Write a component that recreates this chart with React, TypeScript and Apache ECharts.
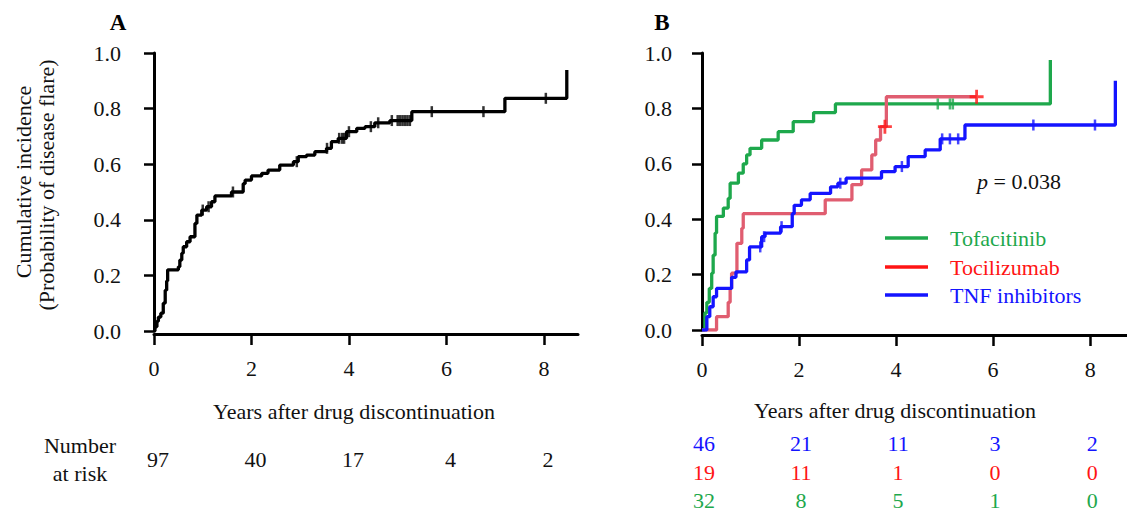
import React, { useEffect, useRef } from "react";
import * as echarts from "echarts";

const FONT = "Liberation Serif";
const FS = 22;

// Panel A: all patients
const timeA = [0, 0.02, 0.06, 0.09, 0.14, 0.19, 0.23, 0.26, 0.28, 0.5, 0.53, 0.57, 0.6, 0.67, 0.74, 0.84, 0.88, 0.98, 1.08, 1.18, 1.25, 1.59, 1.83, 1.87, 2.0, 2.21, 2.34, 2.58, 2.86, 2.96, 3.13, 3.3, 3.54, 3.64, 3.78, 3.95, 4.16, 4.33, 4.53, 4.84, 5.29, 7.2, 8.47];
const cumA = [0, 0.015, 0.035, 0.05, 0.064, 0.1, 0.147, 0.18, 0.22, 0.231, 0.255, 0.28, 0.303, 0.321, 0.339, 0.387, 0.417, 0.435, 0.447, 0.465, 0.486, 0.5, 0.53, 0.543, 0.558, 0.567, 0.579, 0.597, 0.609, 0.627, 0.633, 0.645, 0.657, 0.681, 0.693, 0.717, 0.729, 0.735, 0.749, 0.757, 0.789, 0.837, 0.939];
const censorA = [1.0, 1.12, 1.62, 2.93, 3.55, 3.8, 3.86, 3.9, 4.0, 4.45, 4.6, 4.88, 5.0, 5.05, 5.1, 5.15, 5.2, 5.25, 5.7, 6.76, 8.04];

// Panel B: Tofacitinib
const timeTofa = [0, 0.06, 0.1, 0.15, 0.2, 0.23, 0.27, 0.3, 0.44, 0.54, 0.58, 0.75, 0.85, 0.92, 0.99, 1.23, 1.57, 1.88, 2.3, 2.75, 7.18];
const cumTofa = [0, 0.062, 0.1, 0.15, 0.205, 0.27, 0.35, 0.41, 0.44, 0.475, 0.53, 0.566, 0.6, 0.632, 0.656, 0.686, 0.716, 0.752, 0.785, 0.816, 0.975];
const censorTofa = [4.86, 5.11, 5.17];

// Panel B: Tocilizumab
const timeToci = [0, 0.3, 0.54, 0.58, 0.61, 0.72, 0.82, 0.85, 2.54, 3.09, 3.29, 3.5, 3.58, 3.68, 3.8, 5.66];
const cumToci = [0, 0.048, 0.1, 0.15, 0.205, 0.313, 0.367, 0.42, 0.47, 0.525, 0.578, 0.632, 0.686, 0.734, 0.842, 0.842];
const censorToci = [3.77, 5.66];

// Panel B: TNF inhibitors
const timeTnf = [0, 0.1, 0.16, 0.23, 0.3, 0.61, 0.7, 0.92, 0.98, 1.23, 1.3, 1.62, 1.86, 1.9, 2.05, 2.23, 2.65, 2.8, 2.97, 3.7, 3.98, 4.25, 4.6, 4.91, 5.42, 8.52];
const cumTnf = [0, 0.048, 0.084, 0.12, 0.15, 0.19, 0.21, 0.253, 0.3, 0.337, 0.35, 0.373, 0.42, 0.45, 0.47, 0.493, 0.517, 0.53, 0.548, 0.572, 0.59, 0.626, 0.65, 0.69, 0.74, 0.9];
const censorTnf = [1.2, 1.28, 1.64, 2.85, 4.12, 4.95, 5.11, 5.28, 6.83, 8.1];

const xTicks = [0, 2, 4, 6, 8];
const riskA = [97, 40, 17, 4, 2];
const riskTnf = [46, 21, 11, 3, 2];
const riskToci = [19, 11, 1, 0, 0];
const riskTofa = [32, 8, 5, 1, 0];

const GREEN = "#1ea84c";
const RED_LINE = "#e05d70";
const RED = "#ff1414";
const BLUE = "#1414ff";

function stepAt(times: number[], vals: number[], t: number) {
  let v = vals[0];
  for (let i = 0; i < times.length; i++) if (times[i] <= t) v = vals[i];
  return v;
}

const PLUS = "path://M4,0H6V4H10V6H6V10H4V6H0V4H4Z";

function xAxisCfg(gridIndex: number, max: number, offset: number) {
  return {
    type: "value",
    gridIndex,
    min: 0,
    max,
    offset,
    axisLine: { show: true, onZero: false, lineStyle: { color: "#000", width: 3 } },
    axisTick: { show: true, length: 11, customValues: xTicks, lineStyle: { color: "#000", width: 2.5 } },
    axisLabel: { customValues: xTicks, margin: 23, color: "#111", fontFamily: FONT, fontSize: FS },
    splitLine: { show: false },
  };
}

function yAxisCfg(gridIndex: number, offset: number) {
  return {
    type: "value",
    gridIndex,
    min: 0,
    max: 1,
    interval: 0.2,
    offset,
    axisLine: { show: true, lineStyle: { color: "#000", width: 3 } },
    axisTick: { show: true, length: 10, lineStyle: { color: "#000", width: 2.5 } },
    axisLabel: {
      margin: 14,
      color: "#111",
      fontFamily: FONT,
      fontSize: FS,
      formatter: (v: number) => v.toFixed(1),
    },
    splitLine: { show: false },
  };
}

function kmSeries(name: string, times: number[], vals: number[], color: string, idx: number) {
  return {
    name,
    type: "line",
    step: "end",
    xAxisIndex: idx,
    yAxisIndex: idx,
    showSymbol: false,
    symbol: "none",
    data: times.map((t, i) => [t, vals[i]]),
    lineStyle: { color, width: 3.3 },
    z: 3,
  };
}

function censorSeries(name: string, times: number[], vals: number[], cens: number[], color: string, idx: number, symbol: string, size: any) {
  return {
    name,
    type: "scatter",
    xAxisIndex: idx,
    yAxisIndex: idx,
    symbol,
    symbolSize: size,
    data: cens.map((t) => [t, stepAt(times, vals, t)]),
    itemStyle: { color },
    z: 4,
  };
}

export default function App() {
  const ref = useRef<HTMLDivElement>(null);
  useEffect(() => {
    if (!ref.current) return;
    const chart = echarts.init(ref.current, null, { renderer: "svg" });
    const option: any = {
      animation: false,
      backgroundColor: "#fff",
      grid: [
        { left: 154, top: 53, width: 424, height: 278 },
        { left: 702, top: 53, width: 425, height: 277 },
      ],
      xAxis: [xAxisCfg(0, 8.7, 3), xAxisCfg(1, 8.76, 5)],
      yAxis: [yAxisCfg(0, 19), yAxisCfg(1, 16)],
      series: [
        kmSeries("All", timeA, cumA, "#000", 0),
        censorSeries("All censored", timeA, cumA, censorA, "#000", 0, "rect", [2.5, 11]),
        kmSeries("Tofacitinib", timeTofa, cumTofa, GREEN, 1),
        kmSeries("Tocilizumab", timeToci, cumToci, RED_LINE, 1),
        kmSeries("TNF inhibitors", timeTnf, cumTnf, BLUE, 1),
        censorSeries("Tofacitinib censored", timeTofa, cumTofa, censorTofa, GREEN, 1, "rect", [2.5, 11]),
        censorSeries("Tocilizumab censored", timeToci, cumToci, censorToci, RED, 1, PLUS, 14),
        censorSeries("TNF censored", timeTnf, cumTnf, censorTnf, BLUE, 1, "rect", [2.5, 11]),
      ],
    };
    chart.setOption(option);

    const px = (axis: number, v: number) => chart.convertToPixel({ xAxisIndex: axis }, v) as number;
    const txt = (text: string, x: number, y: number, fill: string, extra: any = {}) => ({
      type: "text",
      x,
      y,
      style: { text, fill, fontFamily: FONT, fontSize: FS, align: "center", verticalAlign: "middle", ...extra },
    });
    const graphics: any[] = [
      txt("A", 118, 22, "#000", { fontWeight: "bold", fontSize: 23 }),
      txt("B", 662, 22, "#000", { fontWeight: "bold", fontSize: 23 }),
      { ...txt("Cumulative incidence", 23, 182, "#111"), rotation: Math.PI / 2 },
      { ...txt("(Probability of disease flare)", 46, 185, "#111"), rotation: Math.PI / 2 },
      txt("Years after drug discontinuation", 354, 411, "#111"),
      txt("Years after drug discontinuation", 895, 410, "#111"),
      txt("Number", 80, 445, "#111"),
      txt("at risk", 80, 473, "#111"),
      // legend
      { type: "line", shape: { x1: 885, y1: 238, x2: 928, y2: 238 }, style: { stroke: GREEN, lineWidth: 3.5 } },
      { type: "line", shape: { x1: 885, y1: 267, x2: 928, y2: 267 }, style: { stroke: RED, lineWidth: 3.5 } },
      { type: "line", shape: { x1: 885, y1: 295, x2: 928, y2: 295 }, style: { stroke: BLUE, lineWidth: 3.5 } },
      txt("Tofacitinib", 950, 238, GREEN, { align: "left" }),
      txt("Tocilizumab", 950, 267, RED, { align: "left" }),
      txt("TNF inhibitors", 950, 295, BLUE, { align: "left" }),
      {
        type: "text",
        x: 977,
        y: 181,
        style: {
          text: "{i|p} = 0.038",
          fill: "#111",
          fontFamily: FONT,
          fontSize: FS,
          align: "left",
          verticalAlign: "middle",
          rich: { i: { fontStyle: "italic", fontFamily: FONT, fontSize: FS, fill: "#111" } },
        },
      },
    ];
    xTicks.forEach((t, i) => {
      graphics.push(txt(String(riskA[i]), px(0, t) + 4, 459, "#111"));
      graphics.push(txt(String(riskTnf[i]), px(1, t) + 2, 443, BLUE));
      graphics.push(txt(String(riskToci[i]), px(1, t) + 2, 472, RED));
      graphics.push(txt(String(riskTofa[i]), px(1, t) + 2, 500, GREEN));
    });
    chart.setOption({ graphic: graphics });
    return () => chart.dispose();
  }, []);
  return (
    <div
      ref={ref}
      style={{ position: "fixed", left: 0, top: 0, width: 1127, height: 519, background: "#fff" }}
    />
  );
}
